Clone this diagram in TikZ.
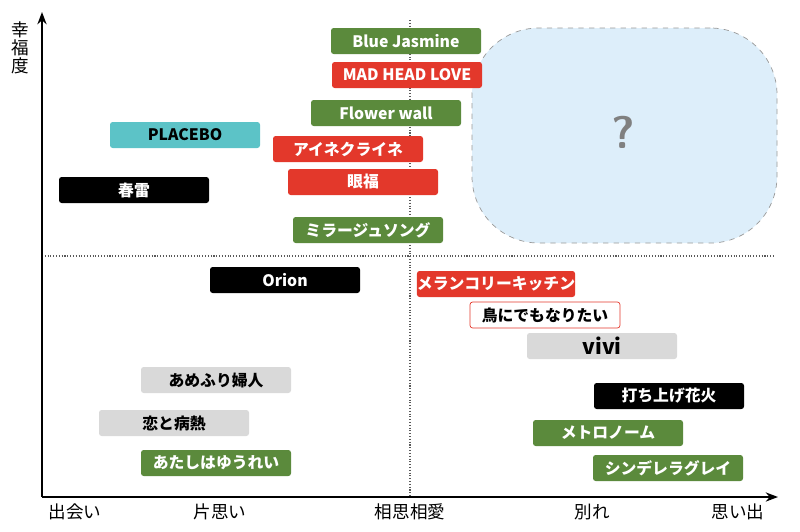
\documentclass[tikz,border=0pt]{standalone}
\usepackage{fontspec}
\setmainfont{Noto Sans CJK JP}
\usetikzlibrary{arrows.meta}
\definecolor{gr}{HTML}{5B8A3C}
\definecolor{rd}{HTML}{E3382B}
\definecolor{gy}{HTML}{D9D9D9}
\definecolor{tl}{HTML}{5CC3C7}
\definecolor{lb}{HTML}{DDEEFA}
\tikzset{
 bx/.style={minimum width=150*0.02cm, minimum height=26*0.02cm, rounded corners=1.5pt, font=\bfseries\small, inner sep=0pt},
 gbox/.style={bx, fill=gr, text=white},
 rbox/.style={bx, fill=rd, text=white},
 kbox/.style={bx, fill=black, text=white},
 ybox/.style={bx, fill=gy, text=black},
 tbox/.style={bx, fill=tl, text=black},
 wbox/.style={bx, fill=white, draw=rd, text=black},
 ax/.style={line width=1pt, -{Stealth[length=7pt]}},
 dt/.style={densely dotted, line width=0.6pt, gray!70!black},
 lab/.style={font=\normalsize}
}
\begin{document}
\begin{tikzpicture}[x=0.02cm,y=-0.02cm]
\useasboundingbox (0,0) rectangle (800,531);
\coordinate (o) at (42,497);
\coordinate (yt) at (42,12);
\coordinate (xt) at (778,497);
\draw[dt] (42,256) -- (775,256);
\draw[dt] (410,20) -- (410,497);
\draw[ax] (o) -- (yt);
\draw[ax] (o) -- (xt);
\node[draw=gray!80, dashed, fill=lb, rounded corners=38pt, minimum width=305*0.02cm, minimum height=215*0.02cm] (q) at (624.5,135.5) {};
\node[text=gray, font=\sffamily\bfseries\fontsize{26}{26}\selectfont] at (623,132) {?};
\node[lab, align=center, font=\normalsize\linespread{0.85}\selectfont] (yl) at (20,48) {幸\\福\\度};
\node[lab] (x1) at (75,512) {出会い};
\node[lab] (x2) at (220,512) {片思い};
\node[lab] (x3) at (410,512) {相思相愛};
\node[lab] (x4) at (592,512) {別れ};
\node[lab] (x5) at (738,512) {思い出};
\node[gbox] (a) at (406,41) {Blue Jasmine};
\node[rbox] (b) at (407,75) {MAD HEAD LOVE};
\node[gbox] (c) at (386,113) {Flower wall};
\node[tbox] (d) at (185,135) {PLACEBO};
\node[rbox] (e) at (348,149) {アイネクライネ};
\node[kbox] (f) at (134,190) {春雷};
\node[rbox] (g) at (363,182) {眼福};
\node[gbox] (h) at (368,230) {ミラージュソング};
\node[kbox] (i) at (285,280) {Orion};
\node[rbox] (j) at (496,284) {メランコリーキッチン};
\node[wbox] (k) at (545,315) {鳥にでもなりたい};
\node[ybox, font=\bfseries\large] (l) at (602,346) {vivi};
\node[ybox] (m) at (216,380) {あめふり婦人};
\node[kbox] (n) at (669,396) {打ち上げ花火};
\node[ybox] (p) at (174,423) {恋と病熱};
\node[gbox] (r) at (608,433) {メトロノーム};
\node[gbox] (s) at (216,463) {あたしはゆうれい};
\node[gbox] (t) at (668,468) {シンデレラグレイ};
\end{tikzpicture}
\end{document}
